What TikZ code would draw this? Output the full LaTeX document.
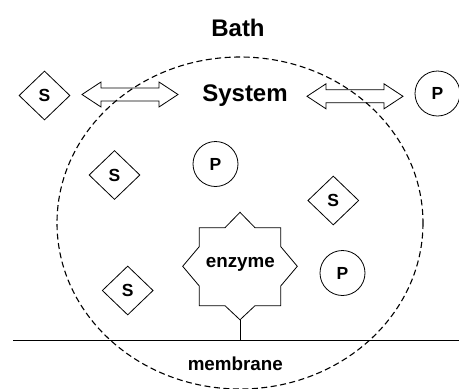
\documentclass[tikz,border=0pt]{standalone}
\usepackage{fontspec}
\setmainfont{Liberation Sans}
\usetikzlibrary{shapes.geometric}

% hollow double-headed arrow from x=#1 to x=#2 at height #3
\newcommand\hollowdbl[3]{%
  \draw[outline] (#1,#3) -- ++(19,-12.5) -- ++(0,6) -- (#2-19,#3-6.5) -- ++(0,-6)
    -- (#2,#3) -- (#2-19,#3+12.5) -- ++(0,-6) -- (#1+19,#3+6.5) -- ++(0,6) -- cycle;}

\begin{document}
\begin{tikzpicture}[x=1pt,y=-1pt,
  outline/.style={line width=0.8pt, line join=miter},
  subst/.style={draw, outline, diamond, minimum width=51pt, minimum height=49pt,
    inner sep=0pt, font=\fontsize{17.5}{19}\selectfont\bfseries},
  prod/.style={draw, outline, circle, minimum size=45pt, inner sep=0pt,
    font=\fontsize{17.5}{19}\selectfont\bfseries},
  label/.style={anchor=base, inner sep=0pt},
  bigtext/.style={label, font=\fontsize{24}{26}\selectfont\bfseries},
  midtext/.style={label, font=\fontsize{18.8}{20}\selectfont\bfseries},
  bound/.style={dash pattern=on 6pt off 3.5pt, line width=1.1pt},
]
\useasboundingbox (0,0) rectangle (459,389);

% system boundary
\draw[bound] (240,223) ellipse [x radius=183, y radius=166];

% titles
\node[bigtext] (bath) at (238,36) {Bath};
\node[bigtext] (system) at (245,101) {System};

% exchange arrows
\hollowdbl{82}{178}{94.5}
\hollowdbl{307}{403}{96.3}

% substrates and products
\node[subst] (s0) at (44.5,95.5) {S};
\node[prod]  (p0) at (437.5,93.5) {P};
\node[subst] (s1) at (114.5,175) {S};
\node[prod]  (p1) at (215.5,164) {P};
\node[subst] (s2) at (333.3,200.5) {S};
\node[subst] (s3) at (127.7,290.5) {S};
\node[prod]  (p2) at (342.5,273) {P};

% enzyme: eight-pointed star
\begin{scope}[shift={(240,266.3)}]
  \draw[outline] (0,-54) -- (15,-38.6) -- (40.8,-38.6) -- (40.8,-19.6) -- (57.3,0)
    -- (40.8,19.6) -- (40.8,39.4) -- (15,39.4) -- (0,53.5) -- (-15,39.4)
    -- (-40.8,39.4) -- (-40.8,19.6) -- (-57.3,0) -- (-40.8,-19.6)
    -- (-40.8,-38.6) -- (-15,-38.6) -- cycle;
  \coordinate (etip) at (0,53.5);
\end{scope}
\node[midtext] (enz) at (240.3,267) {enzyme};

% membrane and anchor
\coordinate (mL) at (13,340);
\coordinate (mR) at (459,340);
\coordinate (mA) at (240,340);
\draw[line width=0.9pt] (mL) -- (mR);
\draw[outline] (etip) -- (mA);
\node[midtext] (mem) at (235.3,370) {membrane};
\end{tikzpicture}
\end{document}
